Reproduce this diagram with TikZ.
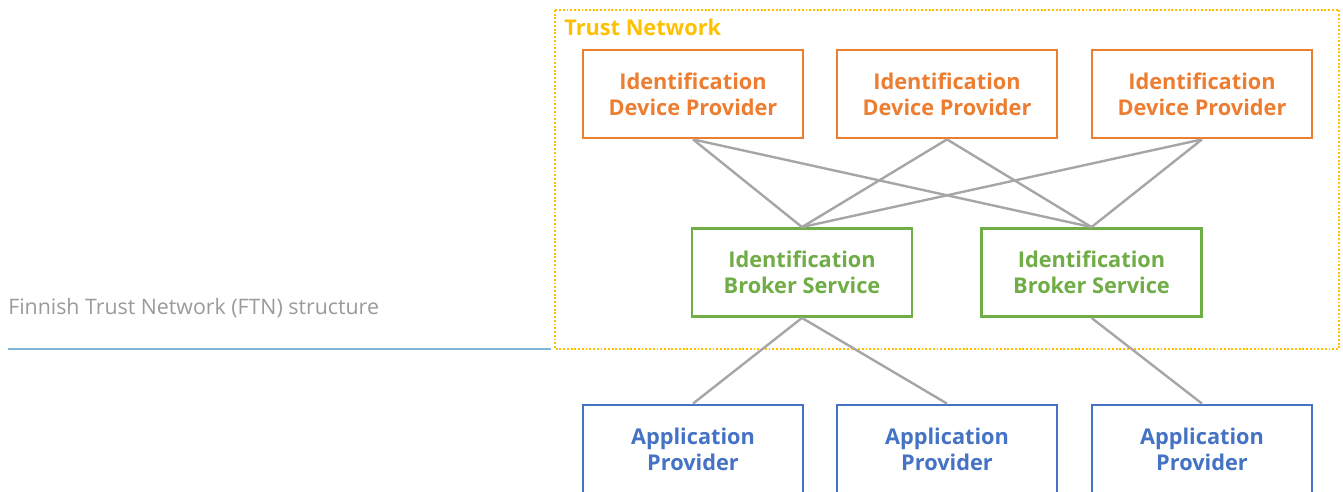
\documentclass[tikz,border=0pt]{standalone}
\usepackage{fontspec}
\setmainfont{Open Sans}
\definecolor{idporange}{HTML}{ED7D31}
\definecolor{brokergreen}{HTML}{70AD47}
\definecolor{appblue}{HTML}{4472C4}
\definecolor{trustgold}{HTML}{FFC000}
\definecolor{linkgray}{HTML}{A6A6A6}
\definecolor{captiongray}{HTML}{9A9A9A}
\definecolor{rulelblue}{HTML}{7FB6D6}
\tikzset{
  entity/.style={draw, line width=2.1pt, fill=white, minimum width=165pt, minimum height=66pt,
    align=center, inner sep=0pt, font=\bfseries\fontsize{16.3}{19.5}\selectfont},
  idp/.style={entity, draw=idporange, text=idporange},
  broker/.style={entity, draw=brokergreen, text=brokergreen},
  app/.style={entity, draw=appblue, text=appblue},
  link/.style={draw=linkgray, line width=1.8pt},
}
\begin{document}
\begin{tikzpicture}[x=0.75pt,y=-0.75pt]
\useasboundingbox (0,0) rectangle (1343,492);
% trust network frame
\draw[trustgold, line width=2pt, dash pattern=on 1.4pt off 1.4pt] (555,10) rectangle (1339,349);
\node[anchor=west, text=trustgold, font=\bfseries\fontsize{16.3}{19}\selectfont, inner sep=0pt] (tn) at (564,27) {Trust Network};
% caption and rule
\node[anchor=west, text=captiongray, font=\fontsize{16}{19}\selectfont, inner sep=0pt] (cap) at (8,308) {Finnish Trust Network (FTN) structure};
\coordinate (ruleL) at (8,349);
\coordinate (ruleR) at (551,349);
\draw[rulelblue, line width=1.6pt] (ruleL) -- (ruleR);
% identification device providers
\node[idp] (p1) at (693,94) {Identification\\Device Provider};
\node[idp] (p2) at (947,94) {Identification\\Device Provider};
\node[idp] (p3) at (1202,94) {Identification\\Device Provider};
% broker services
\node[broker] (b1) at (802,272.5) {Identification\\Broker Service};
\node[broker] (b2) at (1091.5,272.5) {Identification\\Broker Service};
% application providers
\node[app] (a1) at (693,449) {Application\\Provider};
\node[app] (a2) at (947,449) {Application\\Provider};
\node[app] (a3) at (1202,449) {Application\\Provider};
% links between the tiers
\foreach \p in {p1,p2,p3}{
  \draw[link] (\p.south) -- (b1.north);
  \draw[link] (\p.south) -- (b2.north);
}
\draw[link] (b1.south) -- (a1.north);
\draw[link] (b1.south) -- (a2.north);
\draw[link] (b2.south) -- (a3.north);
\end{tikzpicture}
\end{document}
